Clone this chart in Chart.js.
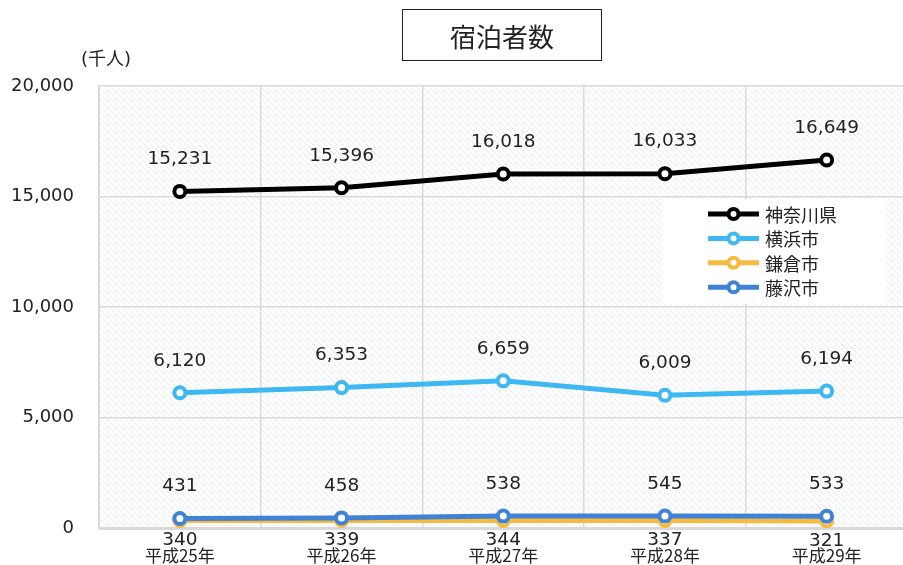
<!DOCTYPE html>
<html lang="ja">
<head>
  <meta charset="UTF-8">
  <title>宿泊者数</title>
  <script src="https://cdn.jsdelivr.net/npm/chart.js"></script>
  <style>
    body { margin: 0; overflow: hidden; background: #fff; }
    #wrap { position: relative; width: 917px; height: 565px; }
    #titulo {
      position: absolute; left: 402px; top: 9px; width: 198px; height: 50px;
      border: 1px solid #222; box-sizing: content-box;
      font: 26px "Noto Sans CJK JP", "DejaVu Sans", sans-serif; color: #222;
      display: flex; align-items: center; justify-content: center;
    }
    #unidad {
      position: absolute; left: 81px; top: 44px;
      font: 18px "DejaVu Sans", "Noto Sans CJK JP", sans-serif; color: #222;
    }
  </style>
</head>
<body>
  <div id="wrap">
    <canvas id="grafico" width="917" height="565"></canvas>
    <div id="titulo">宿泊者数</div>
    <div id="unidad">(千人)</div>
  </div>

  <script>
    // datos
    const years = ['平成25年', '平成26年', '平成27年', '平成28年', '平成29年'];
    const kanagawa = [15231, 15396, 16018, 16033, 16649];
    const yokohama = [6120, 6353, 6659, 6009, 6194];
    const kamakura = [340, 339, 344, 337, 321];
    const fujisawa = [431, 458, 538, 545, 533];
    const yTicks = [0, 5000, 10000, 15000, 20000];

    const fuente = '"DejaVu Sans", "Noto Sans CJK JP", sans-serif';
    const fuenteJa = '"Noto Sans CJK JP", "DejaVu Sans", sans-serif';

    // patron rayado del fondo
    function rayado() {
      const c = document.createElement('canvas');
      c.width = 6; c.height = 6;
      const g = c.getContext('2d');
      g.strokeStyle = '#e6ecf5';
      g.lineWidth = 1;
      g.beginPath();
      g.moveTo(0, 0); g.lineTo(6, 6);
      g.stroke();
      return g.createPattern(c, 'repeat');
    }

    function serie(label, data, color, order, below) {
      return {
        label: label,
        data: data,
        borderColor: color,
        backgroundColor: color,
        borderWidth: 5,
        pointRadius: 5.5,
        pointBorderWidth: 4,
        pointBackgroundColor: '#fff',
        pointBorderColor: color,
        tension: 0,
        order: order,
        labelBelow: below
      };
    }

    const fondoPlugin = {
      id: 'fondo',
      beforeDraw(chart) {
        const { ctx, chartArea: a } = chart;
        ctx.save();
        ctx.fillStyle = rayado();
        ctx.fillRect(a.left, a.top, a.right - a.left, a.bottom - a.top);
        ctx.restore();
      }
    };

    // etiquetas de valores
    const etiquetasPlugin = {
      id: 'etiquetas',
      afterDatasetsDraw(chart) {
        const ctx = chart.ctx;
        ctx.save();
        ctx.font = '18.5px ' + fuente;
        ctx.fillStyle = '#222';
        ctx.textAlign = 'center';
        ctx.textBaseline = 'middle';
        chart.data.datasets.forEach((ds, i) => {
          const meta = chart.getDatasetMeta(i);
          meta.data.forEach((p, j) => {
            const dy = ds.labelBelow ? 20 : -32;
            ctx.fillText(ds.data[j].toLocaleString('en-US'), p.x, p.y + dy);
          });
        });
        ctx.restore();
      }
    };

    // leyenda dentro del area
    const leyendaPlugin = {
      id: 'leyenda',
      afterDraw(chart) {
        const ctx = chart.ctx;
        const x0 = 662, y0 = 199;
        ctx.save();
        ctx.fillStyle = '#fff';
        ctx.fillRect(x0, y0, 223, 105);
        ctx.font = '18px ' + fuenteJa;
        ctx.textBaseline = 'middle';
        chart.data.datasets.forEach((ds, i) => {
          const y = 214 + i * 24.4;
          ctx.strokeStyle = ds.borderColor;
          ctx.lineWidth = 5;
          ctx.beginPath();
          ctx.moveTo(708, y); ctx.lineTo(759, y);
          ctx.stroke();
          ctx.beginPath();
          ctx.arc(733.5, y, 5, 0, Math.PI * 2);
          ctx.fillStyle = '#fff';
          ctx.fill();
          ctx.lineWidth = 4;
          ctx.stroke();
          ctx.fillStyle = '#222';
          ctx.fillText(ds.label, 765, y + 1);
        });
        ctx.restore();
      }
    };

    const ctx = document.getElementById('grafico').getContext('2d');
    const grafico = new Chart(ctx, {
      type: 'line',
      data: {
        labels: years,
        datasets: [
          serie('神奈川県', kanagawa, '#000000', 1, false),
          serie('横浜市', yokohama, '#3db8f2', 2, false),
          serie('鎌倉市', kamakura, '#f6bb3e', 4, true),
          serie('藤沢市', fujisawa, '#3f82d6', 3, false)
        ]
      },
      options: {
        responsive: false,
        animation: false,
        layout: { padding: { top: 86, right: 3, left: 0, bottom: 0 } },
        plugins: { legend: { display: false }, title: { display: false }, tooltip: { enabled: false } },
        scales: {
          x: {
            offset: true,
            afterFit(s) { s.height = 37; },
            grid: { color: '#d9d9d9', lineWidth: 1.5, drawTicks: false, offset: true },
            border: { color: '#d9d9d9', width: 3 },
            ticks: { color: '#222', padding: 17, font: { size: 17, family: fuenteJa }, maxRotation: 0 }
          },
          y: {
            min: 0,
            max: 20000,
            afterFit(s) { s.width = 99; },
            afterBuildTicks(s) { s.ticks = yTicks.map(v => ({ value: v })); },
            grid: { color: '#d9d9d9', lineWidth: 1.5, drawTicks: false },
            border: { color: '#d9d9d9', width: 2 },
            ticks: {
              color: '#222', padding: 25,
              font: { size: 18, family: fuente },
              callback: v => v.toLocaleString('en-US')
            }
          }
        }
      },
      plugins: [fondoPlugin, etiquetasPlugin, leyendaPlugin]
    });
  </script>
</body>
</html>
